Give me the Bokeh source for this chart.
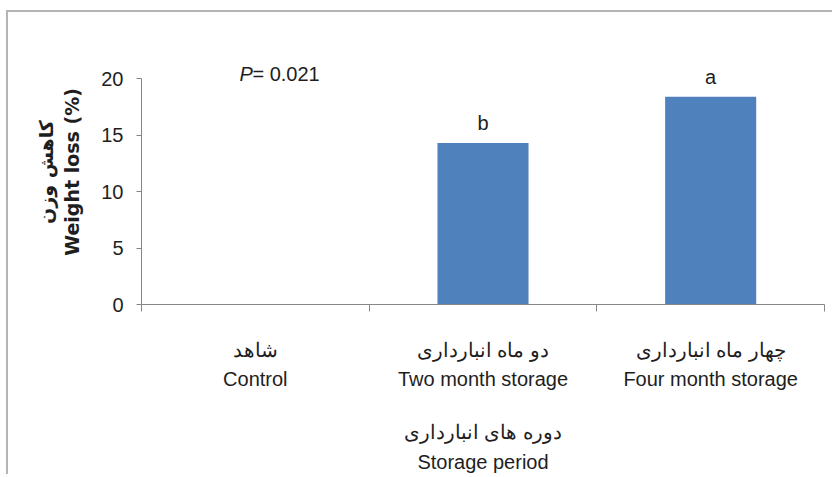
from bokeh.plotting import figure
from bokeh.models import Range1d, FixedTicker, ColumnDataSource, LabelSet, Label
from bokeh.core.properties import value
from bokeh.embed import file_html
from bokeh.resources import INLINE

# ---- data ----
categories = ["Control", "Two month storage", "Four month storage"]
categories_fa = ["شاهد", "دو ماه انبارداری", "چهار ماه انبارداری"]
weight_loss = [0.0, 14.3, 18.4]
letters = ["", "b", "a"]
y_ticks = [0, 5, 10, 15, 20]
p_text = "= 0.021"

FONT = "Liberation Sans"
TXT = "#1e1e1e"
AX = "#868686"

xc = [i + 0.5 for i in range(len(categories))]
src = ColumnDataSource(dict(x=xc, top=weight_loss, lab=letters))

p = figure(width=826, height=464, output_backend="svg", toolbar_location=None,
           x_range=Range1d(0, len(categories)), y_range=Range1d(0, 23.48),
           min_border_left=133, min_border_right=10, min_border_top=27, min_border_bottom=172)
p.margin = (10, 0, 0, 6)
p.styles = {"border-top": "2px solid #b4b4b4", "border-left": "2px solid #b4b4b4"}
p.outline_line_color = None
p.xgrid.visible = False
p.ygrid.visible = False
p.background_fill_color = "white"
p.border_fill_color = "white"

p.vbar(x="x", top="top", width=0.4, bottom=0, source=src,
       fill_color="#4f81bd", line_color=None)

p.add_layout(LabelSet(x="x", y="top", text="lab", source=src, y_offset=13,
                      text_align="center", text_baseline="alphabetic",
                      text_font=value(FONT), text_font_size=value("20px"), text_color=TXT))

# P value annotation
p.add_layout(Label(x=0.43, y=20.4, text="P", text_font=FONT, text_font_style="italic",
                   text_font_size="20px", text_baseline="middle", text_color=TXT))
p.add_layout(Label(x=0.43, y=20.4, x_offset=13, text=p_text, text_font=FONT,
                   text_font_size="20px", text_baseline="middle", text_color=TXT))

# x axis
xa = p.xaxis[0]
xa.ticker = FixedTicker(ticks=xc, minor_ticks=list(range(len(categories) + 1)))
xa.major_label_overrides = {x: f"{fa}\n{en}" for x, fa, en in zip(xc, categories_fa, categories)}
xa.major_tick_out = 0
xa.major_tick_in = 0
xa.minor_tick_out = 7
xa.minor_tick_in = 0
xa.axis_line_color = AX
xa.minor_tick_line_color = AX
xa.major_label_standoff = 27
xa.major_label_text_font = FONT
xa.major_label_text_font_size = "20px"
xa.major_label_text_color = TXT
xa.major_label_text_line_height = 1.35
xa.axis_label = "دوره های انبارداری\nStorage period"
xa.axis_label_text_font = FONT
xa.axis_label_text_font_size = "20px"
xa.axis_label_text_font_style = "normal"
xa.axis_label_text_color = TXT
xa.axis_label_text_line_height = 1.35
xa.axis_label_standoff = 28

# y axis
ya = p.yaxis[0]
ya.ticker = FixedTicker(ticks=y_ticks)
ya.bounds = (y_ticks[0], y_ticks[-1])
ya.major_tick_out = 5
ya.major_tick_in = 0
ya.minor_tick_line_color = None
ya.axis_line_color = AX
ya.major_tick_line_color = AX
ya.major_label_standoff = 13
ya.major_label_text_font = FONT
ya.major_label_text_font_size = "20px"
ya.major_label_text_color = TXT
ya.axis_label = "کاهش وزن\nWeight loss (%)"
ya.axis_label_text_font = "DejaVu Sans"
ya.axis_label_text_font_size = "19px"
ya.axis_label_text_font_style = "bold"
ya.axis_label_text_color = TXT
ya.axis_label_standoff = 15

open("out.html", "w").write(file_html(p, INLINE))
